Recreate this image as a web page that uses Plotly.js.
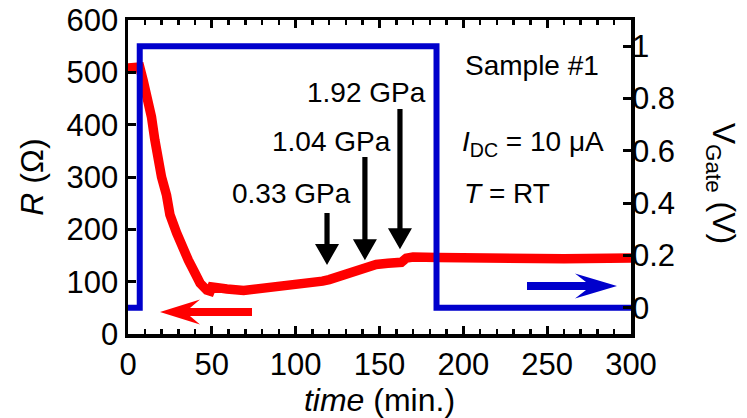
<!DOCTYPE html>
<html>
<head>
<meta charset="utf-8">
<script src="https://cdn.plot.ly/plotly-3.0.1.min.js"></script>
<style>html,body{margin:0;padding:0;background:#fff;}#chart{width:747px;height:418px;}</style>
</head>
<body>
<div id="chart"></div>
<script>
// Resistance R (Ohm) vs time (min)
var timeR = [-1, 3, 7, 9, 12, 14, 16, 18, 20, 23, 25, 29, 32, 36, 40, 43, 47, 49, 50, 53, 59, 69, 79, 93, 107, 116, 120, 127, 138, 148, 155, 160, 163, 166, 170, 185, 200, 230, 260, 300];
var resistance = [508, 510, 510, 485, 447, 415, 371, 332, 300, 265, 228, 193, 166, 141, 116, 97, 84, 82, 90, 88, 86, 83, 86, 90, 96, 101, 104, 112, 123, 133, 135, 134, 137, 145, 147, 146, 145, 145, 144, 145];

// Gate voltage (V) vs time (min)
var timeV = [-3, 7, 7, 184, 184, 300];
var vGate = [0, 0, 1, 1, 0, 0];

// Tick labels
var xTicks = [0, 50, 100, 150, 200, 250, 300];
var yTicks = [0, 100, 200, 300, 400, 500, 600];
var y2Ticks = [0, 0.2, 0.4, 0.6, 0.8, 1];
var y2TickText = ['0', '0.2', '0.4', '0.6', '0.8', '1'];

// Pressure labels and arrow tips (time, R) / arrow tails (R)
var pressLabels = ['0.33 GPa', '1.04 GPa', '1.92 GPa'];
var pressTime = [118.7, 141.3, 162.2];
var pressTipR = [132, 141, 162];
var pressTailR = [231, 338, 430];
var pressLabelTime = [97.5, 121.4, 142];
var pressLabelR = [269, 367, 462];

var FONT = 'Liberation Sans, Arial, Helvetica, sans-serif';

var traces = [
  {x: timeV, y: vGate, yaxis: 'y2', mode: 'lines', line: {color: '#0000cc', width: 6}, cliponaxis: false, hoverinfo: 'skip'},
  {x: timeR, y: resistance, mode: 'lines', line: {color: '#ff0000', width: 9.5, shape: 'linear'}, cliponaxis: false, hoverinfo: 'skip'}
];

// plot area in pixels (for decorative arrows)
var PL = 128, PR = 631, PT = 20, PB = 334;
function px(x) { return (x - PL) / (PR - PL); }
function py(y) { return (PB - y) / (PB - PT); }
function t2px(t) { return PL + t / 300 * (PR - PL); }
function r2py(r) { return PB - r / 600 * (PB - PT); }
function pathFrom(pts) {
  return 'M' + pts.map(function(p) { return px(p[0]).toFixed(5) + ',' + py(p[1]).toFixed(5); }).join('L') + 'Z';
}

var redArrow = pathFrom([[160, 312], [200, 299.5], [190, 308], [252, 308], [252, 316], [190, 316], [200, 324.5]]);
var blueArrow = pathFrom([[617, 286], [575, 273.5], [586, 282], [527, 282], [527, 290], [586, 290], [575, 298.5]]);

var shapes = [
  {type: 'path', xref: 'paper', yref: 'paper', path: redArrow, fillcolor: '#ff0000', line: {width: 0}},
  {type: 'path', xref: 'paper', yref: 'paper', path: blueArrow, fillcolor: '#0000cc', line: {width: 0}}
];

var annFont = {family: FONT, size: 28, color: '#000'};
var annotations = [];
for (var i = 0; i < pressLabels.length; i++) {
  var ax = t2px(pressTime[i]), tipY = r2py(pressTipR[i]), tailY = r2py(pressTailR[i]);
  var baseY = tipY - 21;
  shapes.push({type: 'path', xref: 'paper', yref: 'paper', fillcolor: '#000', line: {width: 0},
    path: pathFrom([[ax, tipY], [ax - 12, baseY], [ax - 2.6, baseY], [ax - 2.6, tailY], [ax + 2.6, tailY], [ax + 2.6, baseY], [ax + 12, baseY]])});
  annotations.push({x: pressLabelTime[i], y: pressLabelR[i], xref: 'x', yref: 'y', text: pressLabels[i],
    showarrow: false, font: annFont, xanchor: 'center', yanchor: 'middle'});
}
annotations.push({x: 199.8, y: 514, xref: 'x', yref: 'y', text: 'Sample #1', showarrow: false, font: annFont, xanchor: 'left', yanchor: 'middle'});
annotations.push({x: 198, y: 364, xref: 'x', yref: 'y', text: '<i>I</i><sub>DC</sub> = 10 μA', showarrow: false, font: annFont, xanchor: 'left', yanchor: 'middle'});
annotations.push({x: 199.2, y: 269, xref: 'x', yref: 'y', text: '<i>T</i> = RT', showarrow: false, font: annFont, xanchor: 'left', yanchor: 'middle'});
annotations.push({x: 1.18, y: 0.48, xref: 'paper', yref: 'paper', text: 'V<sub>Gate</sub> (V)', textangle: 90, showarrow: false,
  font: {family: FONT, size: 32, color: '#000'}, xanchor: 'center', yanchor: 'middle'});

var layout = {
  width: 747, height: 418,
  margin: {l: PL, r: 747 - PR, t: PT, b: 418 - PB, pad: 0},
  paper_bgcolor: '#fff', plot_bgcolor: '#fff',
  showlegend: false,
  font: {family: FONT, color: '#000'},
  xaxis: {
    range: [0, 300], tickvals: xTicks, ticks: 'inside', ticklen: 8, tickwidth: 3, tickcolor: '#000',
    minor: {dtick: 10, ticks: 'inside', ticklen: 5, tickwidth: 2.5, tickcolor: '#000'},
    showline: true, linewidth: 3.5, linecolor: '#000', mirror: 'ticks',
    showgrid: false, zeroline: false, tickfont: {size: 31, family: FONT},
    title: {text: '<i>time</i> (min.)', font: {size: 32, family: FONT}, standoff: 3}
  },
  yaxis: {
    range: [0, 600], tickvals: yTicks, ticks: 'inside', ticklen: 8, tickwidth: 3, tickcolor: '#000',
    showline: true, linewidth: 3.5, linecolor: '#000', mirror: true,
    showgrid: false, zeroline: false, tickfont: {size: 31, family: FONT},
    title: {text: '<i>R</i> (Ω)', font: {size: 32, family: FONT}, standoff: 14}
  },
  yaxis2: {
    overlaying: 'y', side: 'right', range: [-0.1, 1.1], tickvals: y2Ticks, ticktext: y2TickText,
    ticks: 'inside', ticklen: 8, tickwidth: 3, tickcolor: '#000',
    showline: false, showgrid: false, zeroline: false, tickfont: {size: 31, family: FONT}
  },
  shapes: shapes,
  annotations: annotations
};

Plotly.newPlot('chart', traces, layout, {staticPlot: true, displayModeBar: false});
</script>
</body>
</html>
